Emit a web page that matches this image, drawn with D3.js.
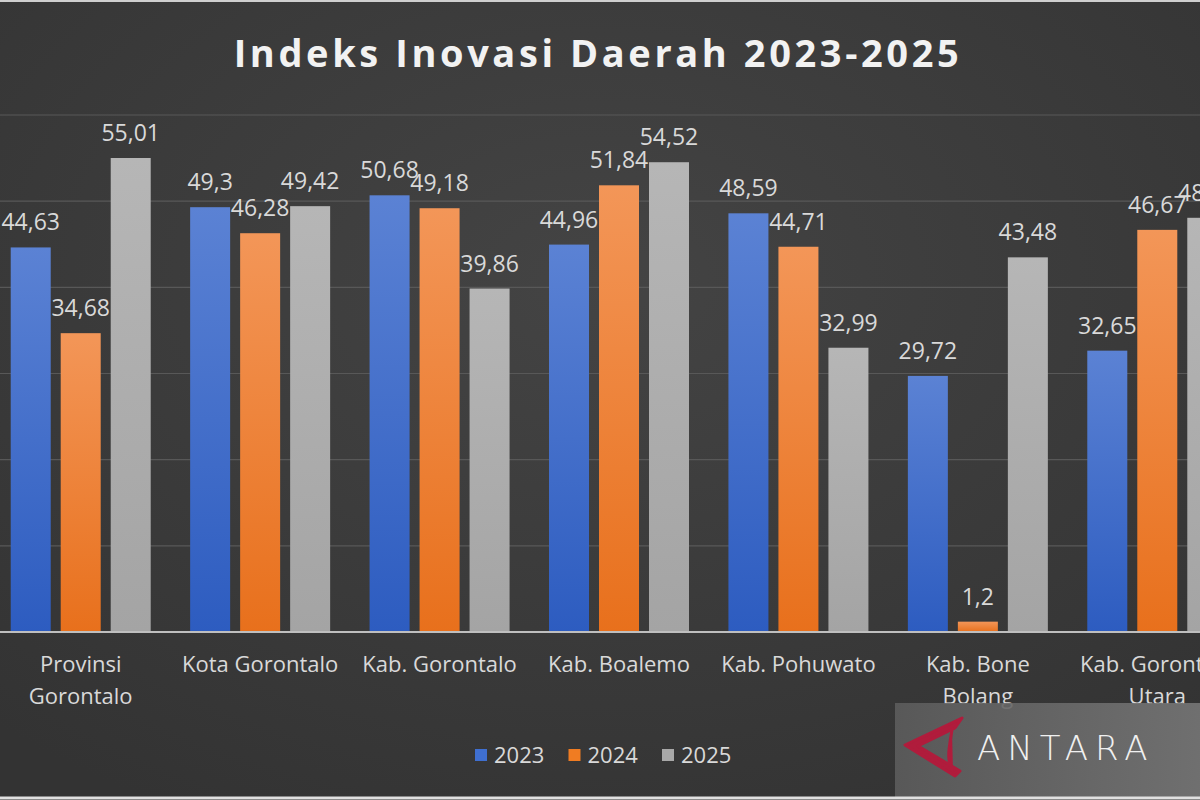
<!DOCTYPE html>
<html>
<head>
<meta charset="utf-8">
<script src="https://cdn.jsdelivr.net/npm/d3@7"></script>
<style>
  html, body { margin: 0; padding: 0; background: #3a3a3a; }
  svg { display: block; }
</style>
</head>
<body>
<div id="chart"></div>
<script>
// categories and values
const regions = ['Provinsi Gorontalo', 'Kota Gorontalo', 'Kab. Gorontalo', 'Kab. Boalemo',
                 'Kab. Pohuwato', 'Kab. Bone Bolang', 'Kab. Gorontalo Utara'];
const regionLines = [['Provinsi', 'Gorontalo'], ['Kota Gorontalo'], ['Kab. Gorontalo'], ['Kab. Boalemo'],
                     ['Kab. Pohuwato'], ['Kab. Bone', 'Bolang'], ['Kab. Gorontalo', 'Utara']];
const years = ['2023', '2024', '2025'];
const v2023 = [44.63, 49.3, 50.68, 44.96, 48.59, 29.72, 32.65];
const v2024 = [34.68, 46.28, 49.18, 51.84, 44.71, 1.2, 46.67];
const v2025 = [55.01, 49.42, 39.86, 54.52, 32.99, 43.48, 48.07];
const yTicks = [0, 10, 20, 30, 40, 50, 60];

const width = 1200, height = 800;
const colors = {
    '2023': ['#5b82d4', '#2d5cc0'],
    '2024': ['#f39658', '#e8701c'],
    '2025': ['#b6b6b6', '#a4a4a4']
};
const legendColors = { '2023': '#3f6fd0', '2024': '#f07c22', '2025': '#a8a8a8' };
const font = '"Open Sans", sans-serif';

const svg = d3.select('#chart')
    .append('svg')
    .attr('width', width)
    .attr('height', height);

const defs = svg.append('defs');
const bg = defs.append('radialGradient').attr('id', 'bg')
    .attr('cx', '50%').attr('cy', '35%').attr('r', '75%');
bg.append('stop').attr('offset', '0%').attr('stop-color', '#444444');
bg.append('stop').attr('offset', '100%').attr('stop-color', '#333333');

years.forEach(y => {
    const g = defs.append('linearGradient').attr('id', 'g' + y)
        .attr('x1', 0).attr('y1', 0).attr('x2', 0).attr('y2', 1);
    g.append('stop').attr('offset', '0%').attr('stop-color', colors[y][0]);
    g.append('stop').attr('offset', '100%').attr('stop-color', colors[y][1]);
});

const wmGrad = defs.append('linearGradient').attr('id', 'wm')
    .attr('x1', 0).attr('y1', 0).attr('x2', 1).attr('y2', 0);
wmGrad.append('stop').attr('offset', '0%').attr('stop-color', '#5c5c5c');
wmGrad.append('stop').attr('offset', '100%').attr('stop-color', '#767676');

svg.append('rect').attr('width', width).attr('height', height).attr('fill', 'url(#bg)');

// the picture is a crop, so the plot runs past both edges
const x0 = d3.scaleBand()
    .domain(regions)
    .range([-9, 1247])
    .paddingInner(0)
    .paddingOuter(0);

const x1 = d3.scaleBand()
    .domain(years)
    .range([0, 140])
    .paddingInner(0.2);

const yScale = d3.scaleLinear()
    .domain([0, 60])
    .range([632, 115]);

// gridlines
svg.append('g')
    .selectAll('line')
    .data(yTicks.slice(1))
    .enter()
    .append('line')
    .attr('x1', 0).attr('x2', width)
    .attr('y1', d => yScale(d)).attr('y2', d => yScale(d))
    .attr('stroke', '#585858')
    .attr('stroke-width', 1.2);

const table = regions.map((r, i) => ({
    region: r,
    values: [
        { year: '2023', value: v2023[i] },
        { year: '2024', value: v2024[i] },
        { year: '2025', value: v2025[i] }
    ]
}));

const groups = svg.append('g')
    .selectAll('.group')
    .data(table)
    .enter()
    .append('g')
    .attr('class', 'group')
    .attr('transform', d => `translate(${x0(d.region) + (x0.bandwidth() - 140) / 2},0)`);

groups.selectAll('rect')
    .data(d => d.values)
    .enter()
    .append('rect')
    .attr('x', d => x1(d.year))
    .attr('y', d => yScale(d.value))
    .attr('width', x1.bandwidth())
    .attr('height', d => yScale(0) - yScale(d.value))
    .attr('fill', d => 'url(#g' + d.year + ')');

groups.selectAll('text')
    .data(d => d.values)
    .enter()
    .append('text')
    .attr('x', d => x1(d.year) + x1.bandwidth() / 2)
    .attr('y', d => yScale(d.value) - 17)
    .attr('text-anchor', 'middle')
    .attr('fill', '#d9d9d9')
    .style('font-family', font)
    .style('font-size', '23px')
    .text(d => String(d.value).replace('.', ','));

// baseline
svg.append('line')
    .attr('x1', 0).attr('x2', width)
    .attr('y1', yScale(0)).attr('y2', yScale(0))
    .attr('stroke', '#bfbfbf')
    .attr('stroke-width', 2);

// category labels
const catLabels = svg.append('g')
    .selectAll('text')
    .data(regions)
    .enter()
    .append('text')
    .attr('x', d => x0(d) + x0.bandwidth() / 2)
    .attr('y', 672)
    .attr('text-anchor', 'middle')
    .attr('fill', '#d9d9d9')
    .style('font-family', font)
    .style('font-size', '22px');

catLabels.selectAll('tspan')
    .data((d, i) => regionLines[i])
    .enter()
    .append('tspan')
    .attr('x', function () { return d3.select(this.parentNode).attr('x'); })
    .attr('dy', (d, i) => i === 0 ? 0 : 32)
    .text(d => d);

// title
svg.append('text')
    .attr('x', 598)
    .attr('y', 67)
    .attr('text-anchor', 'middle')
    .attr('fill', '#f2f2f2')
    .style('font-family', font)
    .style('font-size', '38px')
    .style('font-weight', 'bold')
    .style('letter-spacing', '3.6px')
    .text('Indeks Inovasi Daerah 2023-2025');

// legend
const legendX = d3.scalePoint().domain(years).range([475, 662]);
const legend = svg.append('g')
    .selectAll('g')
    .data(years)
    .enter()
    .append('g')
    .attr('transform', d => `translate(${legendX(d)},0)`);

legend.append('rect')
    .attr('x', 0).attr('y', 749)
    .attr('width', 12).attr('height', 12)
    .attr('fill', d => legendColors[d]);

legend.append('text')
    .attr('x', 19).attr('y', 763)
    .attr('fill', '#d9d9d9')
    .style('font-family', font)
    .style('font-size', '22px')
    .text(d => d);

// watermark box
const wm = svg.append('g');
wm.append('rect')
    .attr('x', 895).attr('y', 703)
    .attr('width', 305).attr('height', 94)
    .attr('fill', 'url(#wm)')
    .attr('opacity', 0.9);
wm.append('path')
    .attr('d', 'M962,718 L905,745 L955,776 L960,771 L918,746 L955,728 Z M952,730 C949,748 946,760 953,772')
    .attr('fill', '#b01c3c')
    .attr('stroke', '#b01c3c')
    .attr('stroke-width', 3)
    .attr('stroke-linejoin', 'round');
wm.append('text')
    .attr('x', 977).attr('y', 760)
    .attr('fill', '#f0f0f0')
    .style('font-family', '"DejaVu Sans", sans-serif')
    .style('font-size', '34px')
    .style('font-weight', '300')
    .style('letter-spacing', '7px')
    .text('ANTARA');

// frame lines at the crop edges
svg.append('line').attr('x1', 0).attr('x2', width).attr('y1', 1).attr('y2', 1)
    .attr('stroke', '#cfcfcf').attr('stroke-width', 2);
svg.append('line').attr('x1', 0).attr('x2', width).attr('y1', 798).attr('y2', 798)
    .attr('stroke', '#e0e0e0').attr('stroke-width', 3);
</script>
</body>
</html>
